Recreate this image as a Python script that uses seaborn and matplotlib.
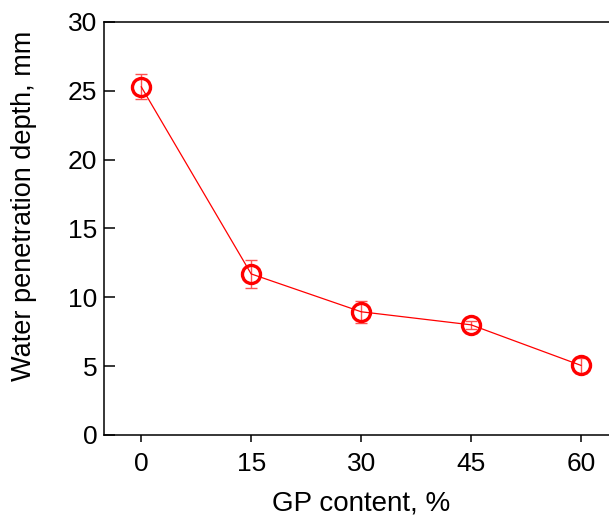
import matplotlib
matplotlib.use('Agg')
import matplotlib.pyplot as plt
import pandas as pd
import seaborn as sns

# data
gp_content = [0, 15, 30, 45, 60]
depth = [25.3, 11.7, 8.95, 8.0, 5.05]
depth_err = [0.9, 1.0, 0.8, 0.3, 0.55]

df = pd.DataFrame({'gp': gp_content, 'depth': depth, 'err': depth_err})

sns.set_style('ticks')
plt.rcParams['font.family'] = ['Liberation Sans', 'DejaVu Sans']
plt.rcParams['text.color'] = 'black'
plt.rcParams['axes.labelcolor'] = 'black'
plt.rcParams['xtick.color'] = 'black'
plt.rcParams['ytick.color'] = 'black'

fig = plt.figure(figsize=(6.09, 5.22), dpi=100)
ax = fig.add_axes([0.171, 0.1667, 0.829, 0.7912])

ax.errorbar(df['gp'], df['depth'], yerr=df['err'], fmt='none',
            ecolor='#ff5050', elinewidth=1.0, capsize=4, capthick=1.0, zorder=2)
sns.lineplot(data=df, x='gp', y='depth', ax=ax, color='red', linewidth=0.9,
             marker='o', markersize=13, markerfacecolor='none',
             markeredgecolor='red', markeredgewidth=2.4, zorder=3)

ax.set_xlim(-5.05, 63.8)
ax.set_ylim(0, 30)
ax.set_xticks(gp_content)
ax.set_yticks(range(0, 31, 5))
ax.set_xlabel('GP content, %', fontsize=20)
ax.set_ylabel('Water penetration depth, mm', fontsize=19.5)
ax.yaxis.set_label_coords(-0.132, 0.555)
ax.xaxis.set_label_coords(0.51, -0.135)

ax.spines['right'].set_visible(False)
for s in ['left', 'top', 'bottom']:
    ax.spines[s].set_linewidth(1.1)
    ax.spines[s].set_color('black')
ax.tick_params(axis='y', direction='in', length=8, width=1.1, labelsize=19, pad=5)
ax.tick_params(axis='x', direction='out', length=5, width=1.1, labelsize=19, pad=7)

fig.savefig('out.png', dpi=100)
